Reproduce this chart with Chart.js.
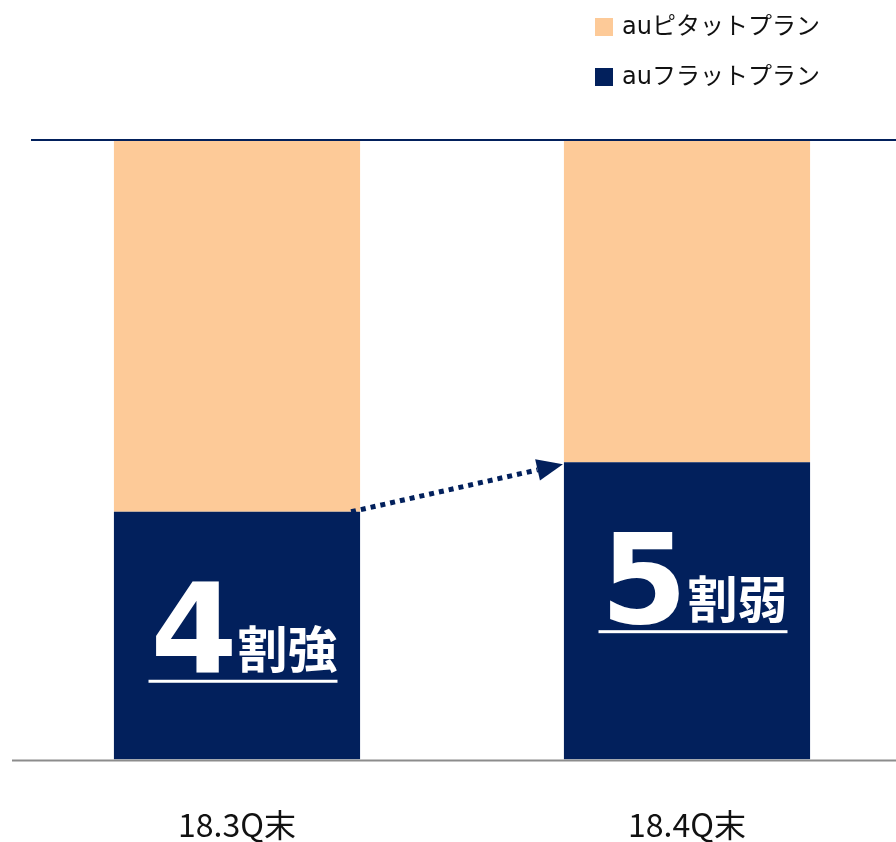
<!DOCTYPE html>
<html>
<head>
<meta charset="utf-8">
<script src="https://cdn.jsdelivr.net/npm/chart.js@4.4.0/dist/chart.umd.min.js"></script>
<style>
  html, body { margin: 0; padding: 0; background: #fff; overflow: hidden; }
  #wrap { width: 896px; height: 842px; position: relative; overflow: hidden; }
</style>
</head>
<body>
<div id="wrap"><canvas id="planChart" width="912" height="890"></canvas></div>
<script>
// data
const quarters = ['18.3Q末', '18.4Q末'];
const flatShare = [40, 48];     // auフラットプラン (%)
const pitatShare = [60, 52];    // auピタットプラン (%)
const shareNum = ['4', '5'];
const shareWord = ['割強', '割弱'];

const NAVY = '#02205C';
const PEACH = '#FDCA98';

// legend, frame lines, arrow and share labels
const decor = {
  id: 'decor',
  afterDatasetsDraw(chart) {
    const ctx = chart.ctx;
    const area = chart.chartArea;
    const y = chart.scales.y;
    const flatMeta = chart.getDatasetMeta(0);

    ctx.save();
    // top line (100%)
    ctx.strokeStyle = NAVY;
    ctx.lineWidth = 2;
    ctx.beginPath();
    ctx.moveTo(31, y.getPixelForValue(100));
    ctx.lineTo(area.right, y.getPixelForValue(100));
    ctx.stroke();
    // base line
    ctx.strokeStyle = '#8c8c8c';
    ctx.beginPath();
    ctx.moveTo(area.left, y.getPixelForValue(0) + 1);
    ctx.lineTo(area.right, y.getPixelForValue(0) + 1);
    ctx.stroke();

    // dotted arrow between flat-plan tops
    const b0 = flatMeta.data[0], b1 = flatMeta.data[1];
    const x0 = b0.x + b0.width / 2 - 9, y0 = b0.y;
    const x1 = b1.x - b1.width / 2 - 1, y1 = b1.y + 2;
    const ang = Math.atan2(y1 - y0, x1 - x0);
    const headLen = 26;
    const lx = x1 - Math.cos(ang) * headLen, ly = y1 - Math.sin(ang) * headLen;
    ctx.strokeStyle = NAVY;
    ctx.lineWidth = 5;
    ctx.setLineDash([5, 5]);
    ctx.beginPath();
    ctx.moveTo(x0, y0);
    ctx.lineTo(lx, ly);
    ctx.stroke();
    ctx.setLineDash([]);
    ctx.fillStyle = NAVY;
    ctx.beginPath();
    ctx.moveTo(x1, y1);
    ctx.lineTo(lx + Math.sin(ang) * 11, ly - Math.cos(ang) * 11);
    ctx.lineTo(lx - Math.sin(ang) * 11, ly + Math.cos(ang) * 11);
    ctx.closePath();
    ctx.fill();

    // share labels inside navy bars
    const numFont = 'bold 125px "DejaVu Sans", sans-serif';
    const wordFont = 'bold 50px "Noto Sans CJK JP", sans-serif';
    flatMeta.data.forEach((bar, i) => {
      const base = bar.y + 161;
      ctx.fillStyle = '#fff';
      ctx.textBaseline = 'alphabetic';
      ctx.textAlign = 'left';
      ctx.font = numFont;
      const numW = ctx.measureText(shareNum[i]).width;
      ctx.font = wordFont;
      const wordW = ctx.measureText(shareWord[i]).width;
      const total = numW + wordW;
      const sx = bar.x + 7 - total / 2;
      ctx.font = numFont;
      ctx.fillText(shareNum[i], sx, base);
      ctx.font = wordFont;
      ctx.fillText(shareWord[i], sx + numW, base - 5);
      ctx.fillRect(sx - 2, base + 7, total + 2, 3);
    });

    // legend (top series first)
    const items = [chart.data.datasets[1], chart.data.datasets[0]];
    items.forEach((ds, i) => {
      const ty = 27 + i * 50;
      ctx.fillStyle = ds.backgroundColor;
      ctx.fillRect(595, ty - 9, 18, 18);
      ctx.fillStyle = '#111';
      ctx.font = '24px "DejaVu Sans", "Noto Sans CJK JP", sans-serif';
      ctx.textBaseline = 'middle';
      ctx.fillText(ds.label, 622, ty + 1);
    });
    ctx.restore();
  }
};

new Chart(document.getElementById('planChart'), {
  type: 'bar',
  data: {
    labels: quarters,
    datasets: [
      { label: 'auフラットプラン', data: flatShare, backgroundColor: NAVY },
      { label: 'auピタットプラン', data: pitatShare, backgroundColor: PEACH }
    ]
  },
  options: {
    responsive: false,
    animation: false,
    maintainAspectRatio: false,
    layout: { padding: { top: 140, left: 12, right: 0, bottom: 0 } },
    datasets: { bar: { categoryPercentage: 1, barPercentage: 0.547 } },
    plugins: { legend: { display: false }, tooltip: { enabled: false } },
    scales: {
      x: {
        stacked: true,
        border: { display: false },
        grid: { display: false, drawTicks: false },
        ticks: { padding: 46, color: '#111', font: { family: '"Noto Sans CJK JP"', size: 32 } }
      },
      y: { stacked: true, display: false, min: 0, max: 100 }
    }
  },
  plugins: [decor]
});
</script>
</body>
</html>
